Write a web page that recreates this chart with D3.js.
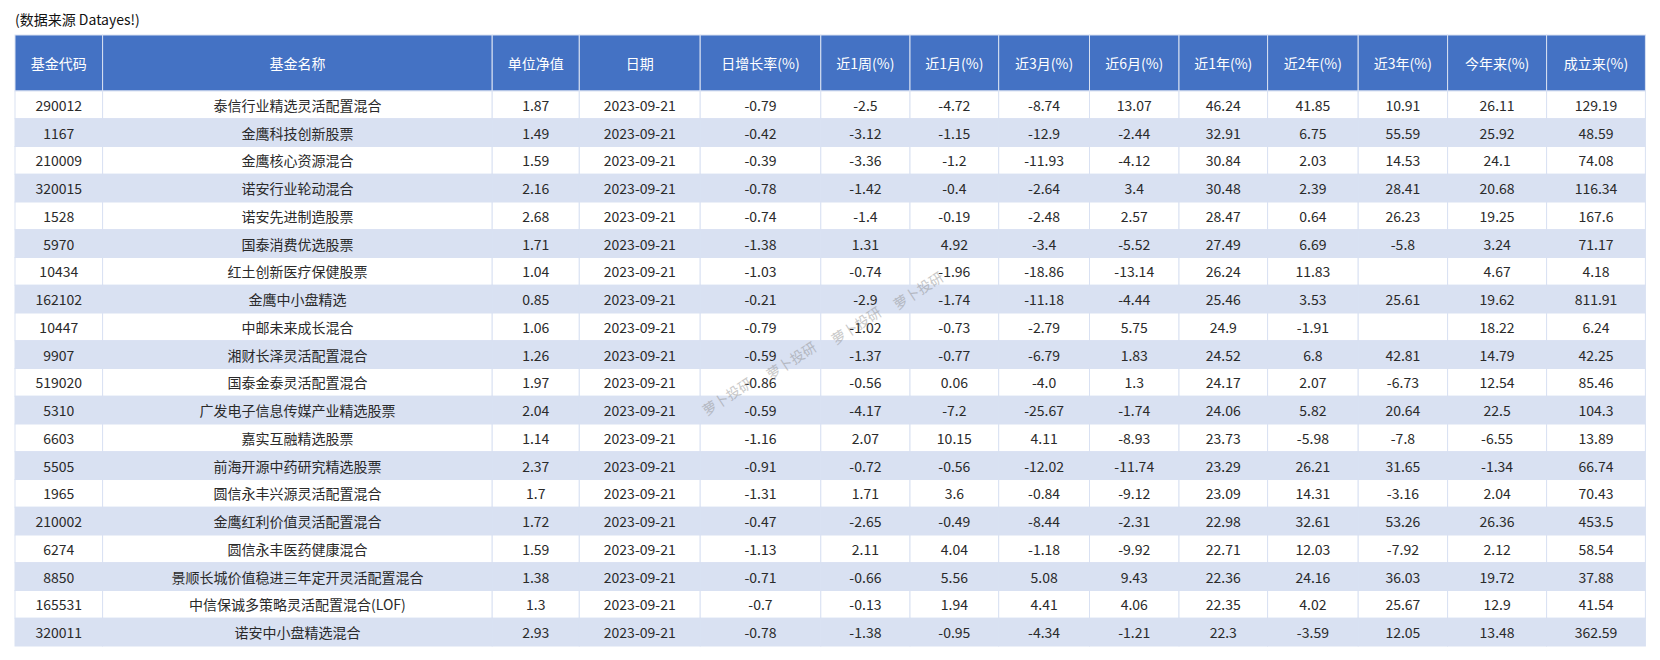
<!DOCTYPE html>
<html><head><meta charset="utf-8">
<script src="https://cdn.jsdelivr.net/npm/d3@7"></script>
<style>
html,body{margin:0;padding:0;background:#fff;}
svg{display:block;font-family:"Noto Sans CJK SC","Noto Sans",sans-serif;}
</style></head>
<body><svg id="chart" width="1660" height="660"></svg>
<script>
// ---------- data ----------
const title = "(数据来源 Datayes!)";
const headers = ["基金代码","基金名称","单位净值","日期","日增长率(%)","近1周(%)","近1月(%)","近3月(%)","近6月(%)","近1年(%)","近2年(%)","近3年(%)","今年来(%)","成立来(%)"];
const codes = ["290012","1167","210009","320015","1528","5970","10434","162102","10447","9907","519020","5310","6603","5505","1965","210002","6274","8850","165531","320011"];
const names = ["泰信行业精选灵活配置混合","金鹰科技创新股票","金鹰核心资源混合","诺安行业轮动混合","诺安先进制造股票","国泰消费优选股票","红土创新医疗保健股票","金鹰中小盘精选","中邮未来成长混合","湘财长泽灵活配置混合","国泰金泰灵活配置混合","广发电子信息传媒产业精选股票","嘉实互融精选股票","前海开源中药研究精选股票","圆信永丰兴源灵活配置混合","金鹰红利价值灵活配置混合","圆信永丰医药健康混合","景顺长城价值稳进三年定开灵活配置混合","中信保诚多策略灵活配置混合(LOF)","诺安中小盘精选混合"];
const nav = ["1.87","1.49","1.59","2.16","2.68","1.71","1.04","0.85","1.06","1.26","1.97","2.04","1.14","2.37","1.7","1.72","1.59","1.38","1.3","2.93"];
const dates = ["2023-09-21","2023-09-21","2023-09-21","2023-09-21","2023-09-21","2023-09-21","2023-09-21","2023-09-21","2023-09-21","2023-09-21","2023-09-21","2023-09-21","2023-09-21","2023-09-21","2023-09-21","2023-09-21","2023-09-21","2023-09-21","2023-09-21","2023-09-21"];
const dailyChg = ["-0.79","-0.42","-0.39","-0.78","-0.74","-1.38","-1.03","-0.21","-0.79","-0.59","-0.86","-0.59","-1.16","-0.91","-1.31","-0.47","-1.13","-0.71","-0.7","-0.78"];
const week1 = ["-2.5","-3.12","-3.36","-1.42","-1.4","1.31","-0.74","-2.9","-1.02","-1.37","-0.56","-4.17","2.07","-0.72","1.71","-2.65","2.11","-0.66","-0.13","-1.38"];
const month1 = ["-4.72","-1.15","-1.2","-0.4","-0.19","4.92","-1.96","-1.74","-0.73","-0.77","0.06","-7.2","10.15","-0.56","3.6","-0.49","4.04","5.56","1.94","-0.95"];
const month3 = ["-8.74","-12.9","-11.93","-2.64","-2.48","-3.4","-18.86","-11.18","-2.79","-6.79","-4.0","-25.67","4.11","-12.02","-0.84","-8.44","-1.18","5.08","4.41","-4.34"];
const month6 = ["13.07","-2.44","-4.12","3.4","2.57","-5.52","-13.14","-4.44","5.75","1.83","1.3","-1.74","-8.93","-11.74","-9.12","-2.31","-9.92","9.43","4.06","-1.21"];
const year1 = ["46.24","32.91","30.84","30.48","28.47","27.49","26.24","25.46","24.9","24.52","24.17","24.06","23.73","23.29","23.09","22.98","22.71","22.36","22.35","22.3"];
const year2 = ["41.85","6.75","2.03","2.39","0.64","6.69","11.83","3.53","-1.91","6.8","2.07","5.82","-5.98","26.21","14.31","32.61","12.03","24.16","4.02","-3.59"];
const year3 = ["10.91","55.59","14.53","28.41","26.23","-5.8","","25.61","","42.81","-6.73","20.64","-7.8","31.65","-3.16","53.26","-7.92","36.03","25.67","12.05"];
const ytd = ["26.11","25.92","24.1","20.68","19.25","3.24","4.67","19.62","18.22","14.79","12.54","22.5","-6.55","-1.34","2.04","26.36","2.12","19.72","12.9","13.48"];
const sinceInception = ["129.19","48.59","74.08","116.34","167.6","71.17","4.18","811.91","6.24","42.25","85.46","104.3","13.89","66.74","70.43","453.5","58.54","37.88","41.54","362.59"];
const watermark = "萝卜投研";

const columns = [codes,names,nav,dates,dailyChg,week1,month1,month3,month6,year1,year2,year3,ytd,sinceInception];

// ---------- layout ----------
const colEdges = [15,102.6,492.2,579.3,700.2,820.8,910,998.7,1089.5,1179,1267.6,1358.2,1447.6,1546.6,1645.4];
const tableTop = 35, headerH = 56, tableBottom = 646;
const headerBlue = "#4472C4", stripe = "#D9E1F2", border = "#D9E1F2";

const svg = d3.select("#chart");
svg.append("rect").attr("width",1660).attr("height",660).attr("fill","#fff");

svg.append("text").attr("x",15).attr("y",25).attr("font-size",14).attr("fill","#111").text(title);

const nRows = codes.length;
const y = d3.scaleBand().domain(d3.range(nRows)).range([tableTop+headerH, tableBottom]);
const xIdx = d3.range(headers.length);
const x0 = i => colEdges[i], cw = i => colEdges[i+1]-colEdges[i];

// header
const hg = svg.append("g");
hg.selectAll("rect").data(xIdx).join("rect")
  .attr("x",x0).attr("y",tableTop).attr("width",cw).attr("height",headerH)
  .attr("fill",headerBlue).attr("stroke",border).attr("stroke-width",1);
hg.selectAll("text").data(xIdx).join("text")
  .attr("x",i=>x0(i)+cw(i)/2).attr("y",tableTop+headerH/2)
  .attr("text-anchor","middle").attr("dominant-baseline","central")
  .attr("font-size",14).attr("fill","#fff").text(i=>headers[i]);

// body
const cells = [];
for (let r=0;r<nRows;r++) for (let c=0;c<headers.length;c++) cells.push({r,c,v:columns[c][r]});
const bg = svg.append("g");
bg.selectAll("rect").data(cells).join("rect")
  .attr("x",d=>x0(d.c)).attr("y",d=>y(d.r)).attr("width",d=>cw(d.c)).attr("height",y.bandwidth())
  .attr("fill",d=>d.r%2===0?"#fff":stripe).attr("stroke",border).attr("stroke-width",1);
bg.selectAll("text").data(cells).join("text")
  .attr("x",d=>x0(d.c)+cw(d.c)/2).attr("y",d=>y(d.r)+y.bandwidth()/2)
  .attr("text-anchor","middle").attr("dominant-baseline","central")
  .attr("font-size",14).attr("fill","#2a2a2a").text(d=>d.v);

// watermark
const wmPos = [[727,396],[791,360],[856,325],[918,290]];
svg.append("g").selectAll("text").data(wmPos).join("text")
  .attr("transform",d=>`translate(${d[0]},${d[1]}) rotate(-33)`)
  .attr("text-anchor","middle").attr("dominant-baseline","central")
  .attr("font-size",14).attr("fill","#888").attr("opacity",0.45).text(watermark);
</script></body></html>
